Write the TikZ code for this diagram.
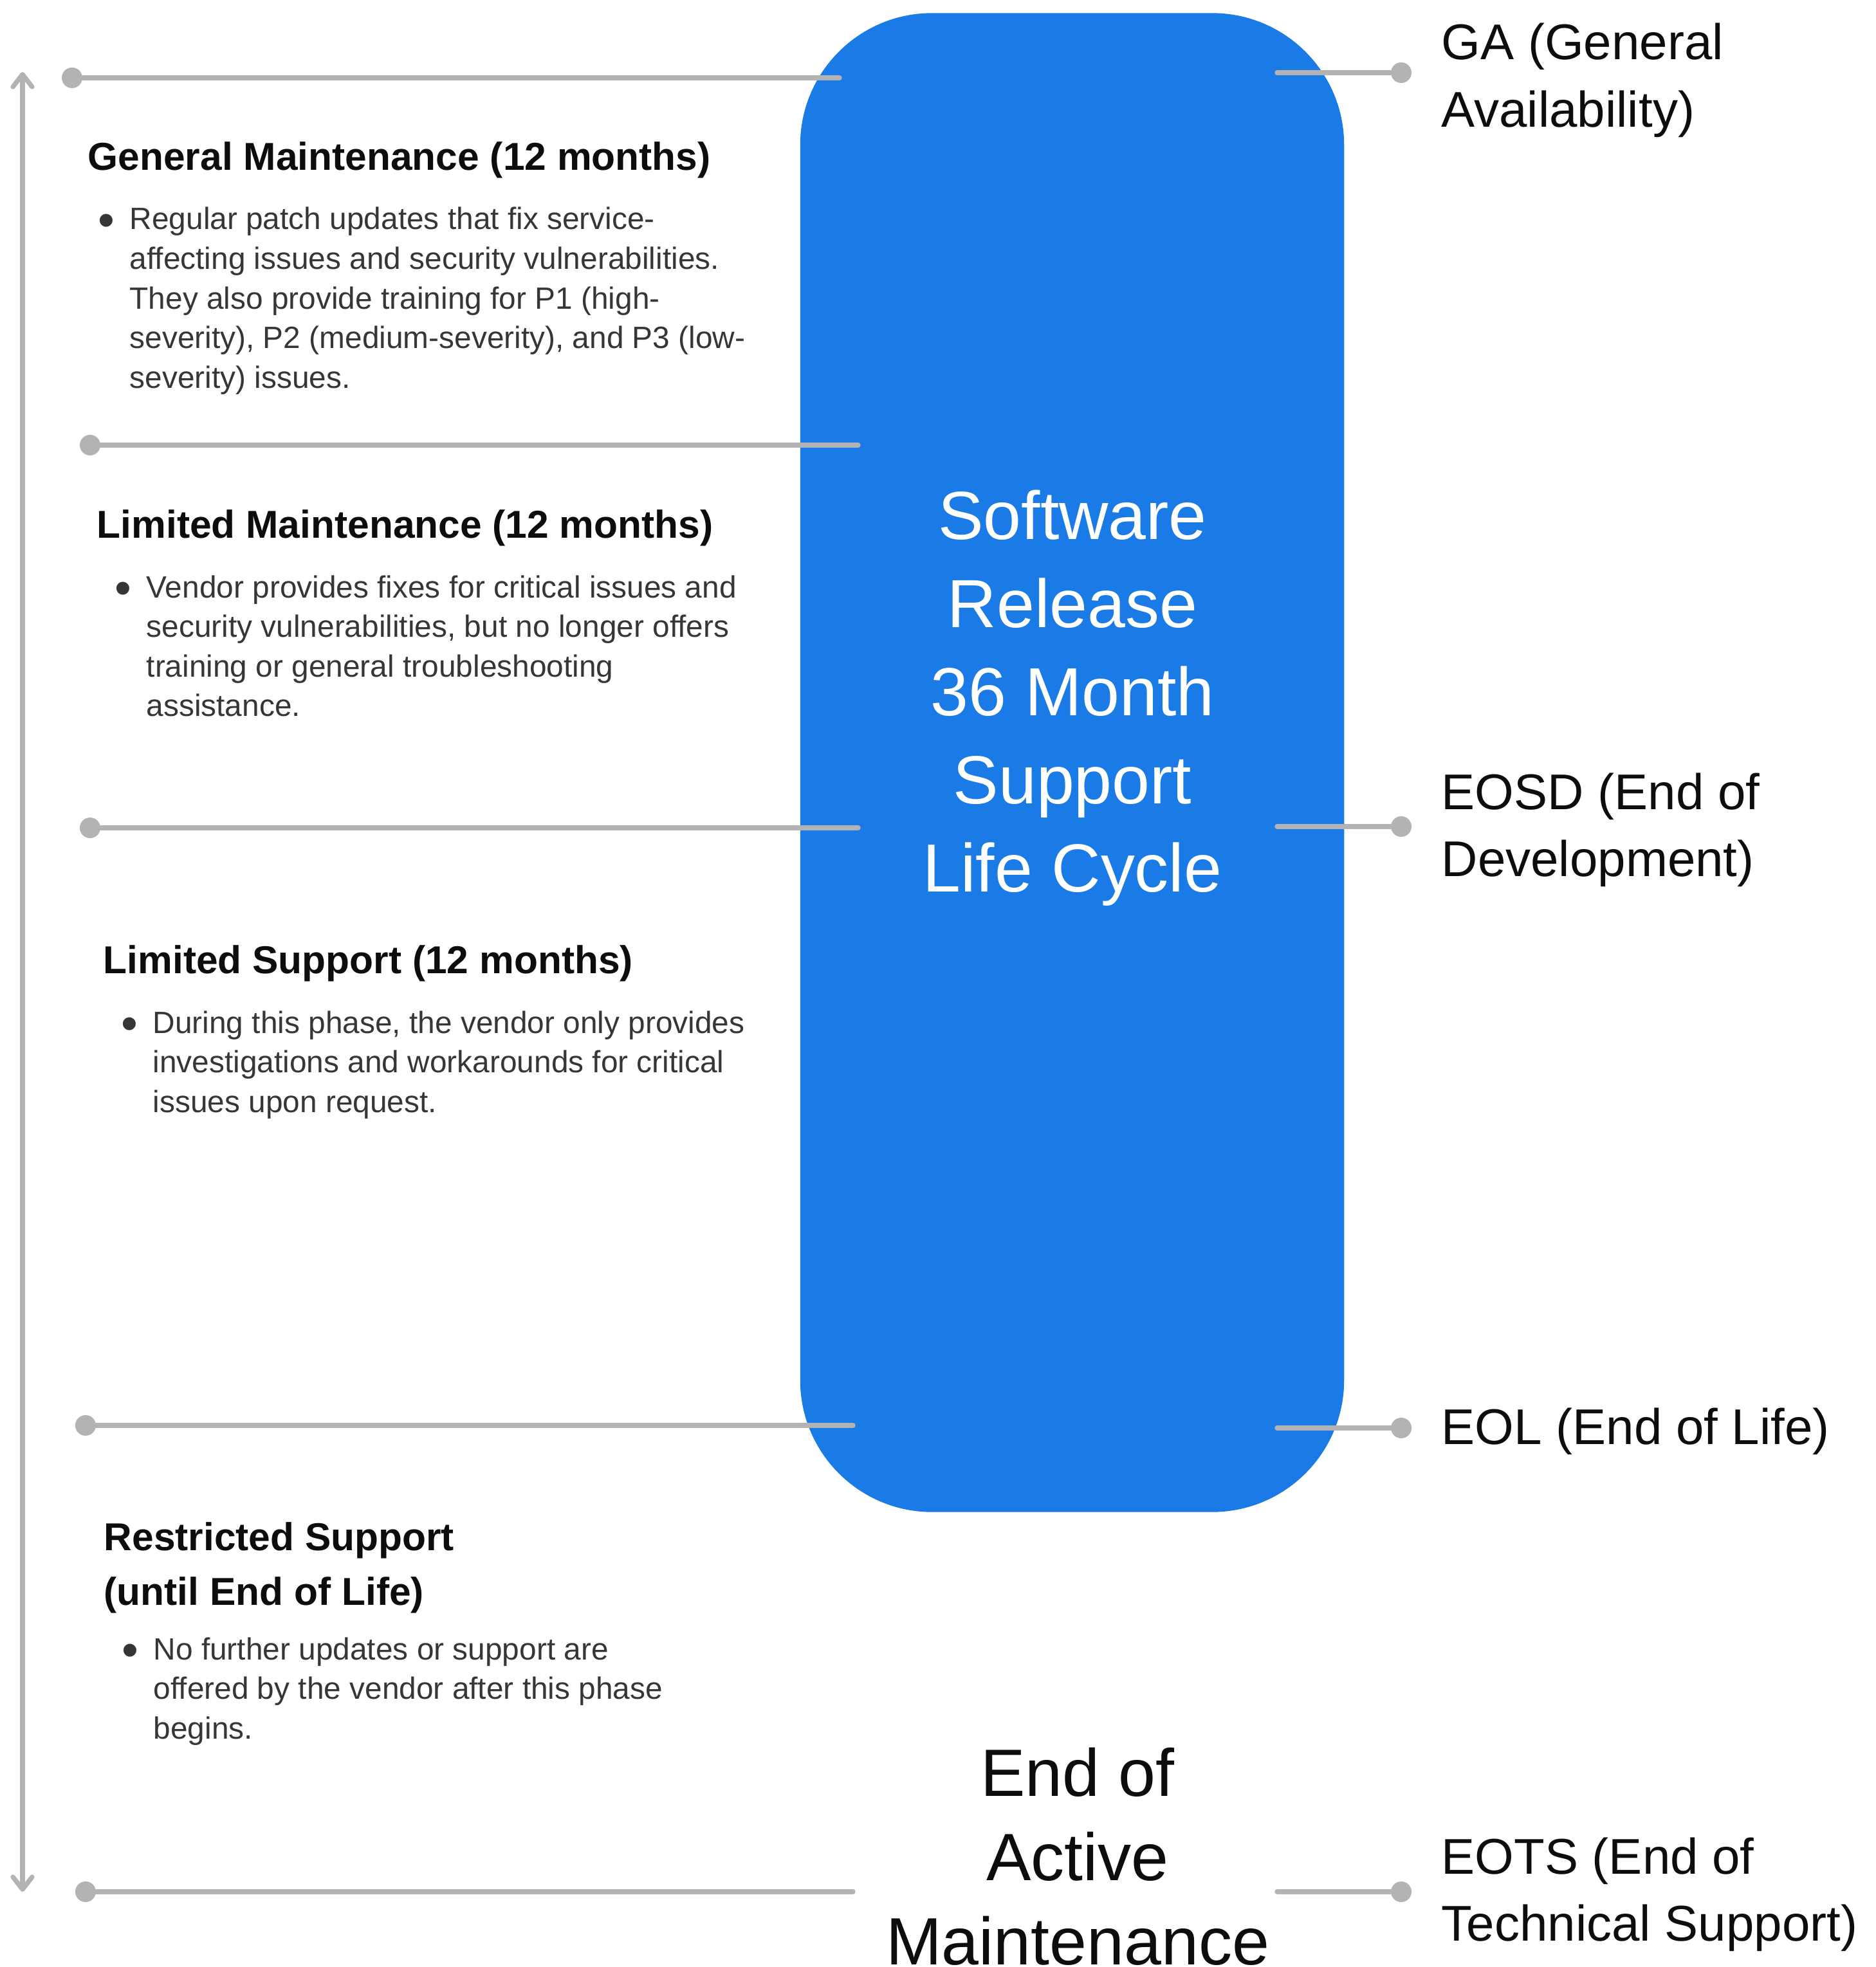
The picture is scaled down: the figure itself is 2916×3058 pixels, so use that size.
\documentclass[tikz,border=0pt]{standalone}
\usepackage{fontspec}
\setmainfont{Liberation Sans}
\usetikzlibrary{arrows.meta, calc, positioning}
\definecolor{blockblue}{HTML}{1A7AE6}
\definecolor{linegrey}{HTML}{B3B3B3}
\definecolor{bodygrey}{HTML}{363636}
\definecolor{inkblack}{HTML}{0D0D0D}
\newcommand{\textstack}[2][l]{\begin{tabular}[t]{@{}#1@{}}#2\end{tabular}}
\newcommand{\bullitem}{\llap{{\fontsize{21}{21}\selectfont\raisebox{-3pt}{\textbullet}}\hspace{6.5pt}}}
\tikzstyle{greyline} = [
    draw = linegrey,
    line width = 2.1pt,
    line cap = round,
]
\tikzstyle{enddot} = [
    circle,
    fill = linegrey,
    minimum size = 0.32cm,
    inner sep = 0pt,
]
\tikzstyle{phasehead} = [anchor = base west, inner sep = 0pt, text = inkblack, font = \fontsize{17.2}{24.2}\selectfont\bfseries]
\tikzstyle{phasebody} = [anchor = base west, inner sep = 0pt, text = bodygrey, font = \fontsize{13.6}{17.5}\selectfont]
\tikzstyle{milestone} = [anchor = base west, inner sep = 0pt, text = inkblack, font = \fontsize{22.2}{29.6}\selectfont]

\begin{document}
\begin{tikzpicture} [x = 0.01cm, y = -0.01cm, >= {Straight Barb[length = 5.5pt, width = 8.5pt, line cap = round, line join = round]}]
    \useasboundingbox (0, 0) rectangle (2916, 3058);

    \node (Block) [rectangle, rounded corners = 2.05cm, fill = blockblue, minimum width = 8.45cm, minimum height = 23.29cm, inner sep = 0pt] at (1666.5, 1185.5) {};
    \node (Cycle) [anchor = base, inner sep = 0pt, text = white, font = \fontsize{30.1}{39}\selectfont] at (1667, 838) {\textstack[c]{Software\\Release\\36 Month\\Support\\Life Cycle}};
    \node (EndActive) [anchor = base, inner sep = 0pt, text = inkblack, font = \fontsize{29.6}{37.3}\selectfont] at (1675, 2792) {\textstack[c]{End of\\Active\\Maintenance}};

    % timeline on the left
    \coordinate (ArrowTop) at (35, 112);
    \coordinate (ArrowBottom) at (35, 2941);
    \draw[greyline, <->] (ArrowTop) -- (ArrowBottom);

    \node (LeftDotA) [enddot] at (112, 121) {};
    \node (LeftDotB) [enddot] at (140, 692) {};
    \node (LeftDotC) [enddot] at (140, 1287) {};
    \node (LeftDotD) [enddot] at (133, 2216) {};
    \node (LeftDotE) [enddot] at (133, 2941) {};
    \coordinate (LeftEndA) at (1305, 121);
    \coordinate (LeftEndB) at (1334, 692);
    \coordinate (LeftEndC) at (1334, 1287);
    \coordinate (LeftEndD) at (1326, 2216);
    \coordinate (LeftEndE) at (1326, 2941);
    \foreach \k in {A, B, C, D, E}
        \draw[greyline] (LeftDot\k) -- (LeftEnd\k);

    % milestones on the right
    \node (DotGA) [enddot] at (2178, 113) {};
    \node (DotEOSD) [enddot] at (2178, 1285) {};
    \node (DotEOL) [enddot] at (2178, 2220) {};
    \node (DotEOTS) [enddot] at (2178, 2941) {};
    \foreach \m in {GA, EOSD, EOL, EOTS}
        \draw[greyline] ($(Dot\m) - (193, 0)$) coordinate (Stub\m) -- (Dot\m);

    \node (GA) [milestone] at (2240, 93) {\textstack{GA (General\\Availability)}};
    \node (EOSD) [milestone] at (2240, 1258) {\textstack{EOSD (End of\\Development)}};
    \node (EOL) [milestone] at (2240, 2245) {EOL (End of Life)};
    \node (EOTS) [milestone] at (2240, 2913) {\textstack{EOTS (End of\\Technical Support)}};

    % phases
    \node (GeneralMaintenance) [phasehead] at (136, 265) {General Maintenance (12 months)};
    \node (GeneralMaintenanceText) [phasebody] at (201, 357) {\textstack{\bullitem Regular patch updates that fix service-\\affecting issues and security vulnerabilities.\\They also provide training for P1 (high-\\severity), P2 (medium-severity), and P3 (low-\\severity) issues.}};

    \node (LimitedMaintenance) [phasehead] at (150, 836) {Limited Maintenance (12 months)};
    \node (LimitedMaintenanceText) [phasebody] at (227, 929) {\textstack{\bullitem Vendor provides fixes for critical issues and\\security vulnerabilities, but no longer offers\\training or general troubleshooting\\assistance.}};

    \node (LimitedSupport) [phasehead] at (160, 1513) {Limited Support (12 months)};
    \node (LimitedSupportText) [phasebody] at (237, 1606) {\textstack{\bullitem During this phase, the vendor only provides\\investigations and workarounds for critical\\issues upon request.}};

    \node (RestrictedSupport) [phasehead] at (161, 2410) {\textstack{Restricted Support\\(until End of Life)}};
    \node (RestrictedSupportText) [phasebody] at (238, 2580) {\textstack{\bullitem No further updates or support are\\offered by the vendor after this phase\\begins.}};
\end{tikzpicture}
\end{document}
